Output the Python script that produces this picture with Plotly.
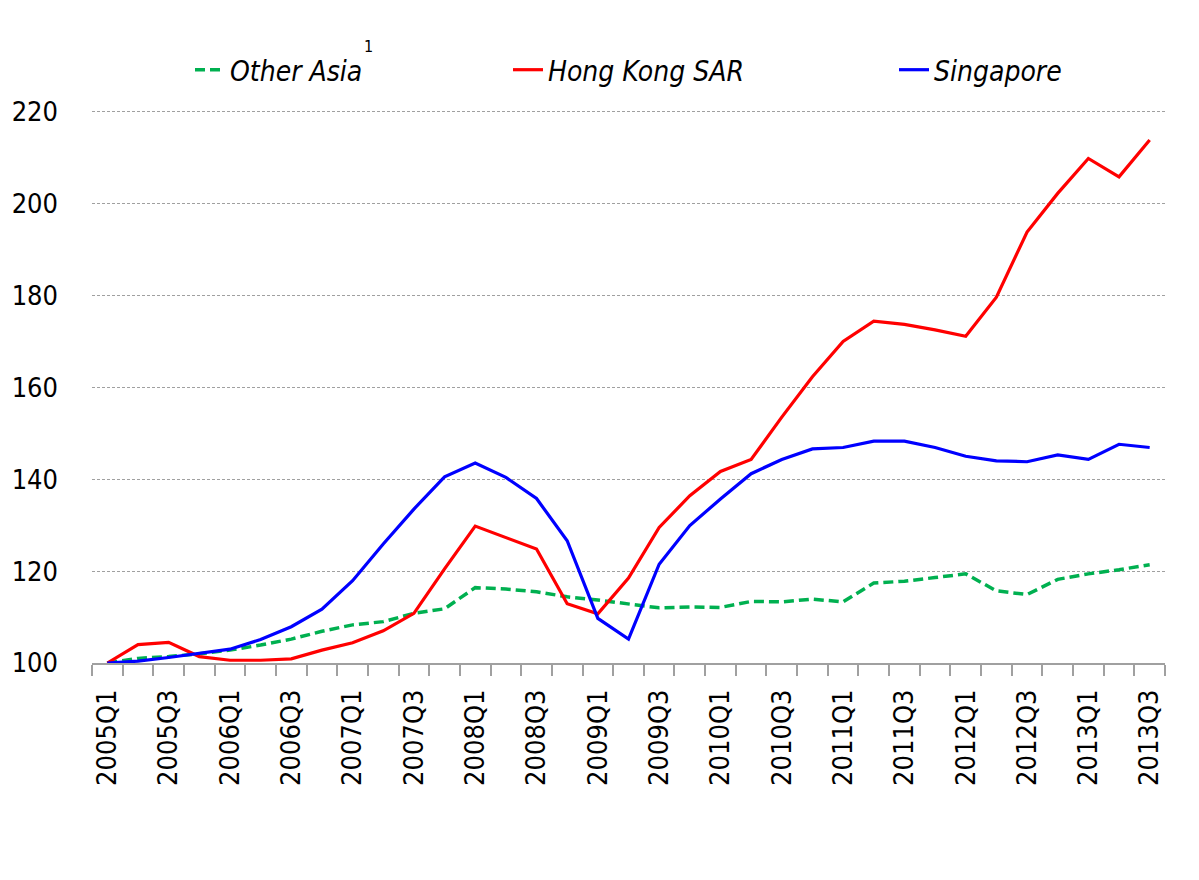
import plotly.graph_objects as go

quarters = [f"{y}Q{q}" for y in range(2005, 2014) for q in range(1, 5)][:35]

other_asia = [100.0, 101.0, 101.4, 102.0, 102.8, 103.9, 105.2, 106.9, 108.3, 109.0,
              110.8, 111.8, 116.4, 116.1, 115.5, 114.4, 113.7, 112.8, 112.0, 112.2,
              112.1, 113.4, 113.3, 113.9, 113.3, 117.4, 117.8, 118.6, 119.4, 115.7,
              114.9, 118.2, 119.4, 120.3, 121.4]
hong_kong = [100.0, 104.0, 104.5, 101.4, 100.6, 100.6, 100.9, 102.8, 104.4, 107.0,
             110.8, 120.5, 129.8, 127.3, 124.8, 112.9, 110.7, 118.5, 129.5, 136.4,
             141.7, 144.3, 153.5, 162.3, 170.0, 174.4, 173.7, 172.5, 171.1, 179.6,
             193.8, 202.2, 209.8, 205.8, 213.8]
singapore = [100.0, 100.4, 101.2, 102.1, 103.0, 105.1, 107.9, 111.7, 117.9, 125.9,
             133.5, 140.5, 143.5, 140.4, 135.8, 126.6, 109.7, 105.2, 121.5, 129.9,
             135.7, 141.2, 144.3, 146.6, 146.9, 148.3, 148.3, 146.9, 145.0, 144.0,
             143.8, 145.3, 144.3, 147.6, 146.9]

y_ticks = [100, 120, 140, 160, 180, 200, 220]
tick_text = [q if i % 2 == 0 else "" for i, q in enumerate(quarters)]

FONT = "DejaVu Sans Condensed, sans-serif"

fig = go.Figure()
fig.add_trace(go.Scatter(x=quarters, y=other_asia, name="Other Asia", mode="lines",
                         line=dict(color="#00B050", width=3.5, dash="10px,5px"),
                         legend="legend", showlegend=True))
fig.add_trace(go.Scatter(x=quarters, y=hong_kong, name="Hong Kong SAR", mode="lines",
                         line=dict(color="#FF0000", width=3.2), legend="legend2",
                         showlegend=True))
fig.add_trace(go.Scatter(x=quarters, y=singapore, name="Singapore", mode="lines",
                         line=dict(color="#0000FF", width=3.2), legend="legend3",
                         showlegend=True))

W, H = 1199, 880
ml, mr, mt, mb = 84, 42, 99, 225
pw, ph = W - ml - mr, H - mt - mb

def px_x(p):
    return (p - ml) / pw

def px_y(p):
    return (H - mb - p) / ph

leg_common = dict(orientation="h", font=dict(family=FONT, size=28, color="black",
                                              style="italic"),
                  bgcolor="rgba(0,0,0,0)", borderwidth=0, yanchor="middle",
                  xanchor="left", y=px_y(62))

fig.update_layout(
    width=W, height=H,
    margin=dict(l=ml, r=mr, t=mt, b=mb, autoexpand=False),
    paper_bgcolor="white",
    plot_bgcolor="white",
    showlegend=True,
    font=dict(family=FONT, size=27, color="black"),
    legend=dict(**leg_common, x=px_x(182)),
    legend2=dict(**leg_common, x=px_x(500)),
    legend3=dict(**leg_common, x=px_x(886)),
    xaxis=dict(type="category", tickmode="array", tickvals=quarters, ticktext=tick_text,
               range=[-0.5, len(quarters) - 0.5],
               tickson="boundaries", ticks="outside", ticklen=11, tickcolor="#A0A0A0",
               tickwidth=1.5, tickangle=-90, showgrid=False, showline=True,
               linecolor="#A0A0A0", linewidth=1.5, ticklabelstandoff=14,
               automargin=False,
               tickfont=dict(family=FONT, size=27, color="black")),
    yaxis=dict(range=[100, 221], tickvals=y_ticks, showgrid=True, gridcolor="#A0A0A0",
               gridwidth=1, griddash="3px,2px", showline=False, ticks="",
               zeroline=False, ticklabelstandoff=33, automargin=False,
               tickfont=dict(family=FONT, size=27, color="black")),
    annotations=[dict(text="1", xref="paper", yref="paper", x=px_x(360), y=px_y(38),
                      showarrow=False, font=dict(family=FONT, size=16, color="black"),
                      xanchor="center", yanchor="middle")],
)

fig.write_html("out.html")
